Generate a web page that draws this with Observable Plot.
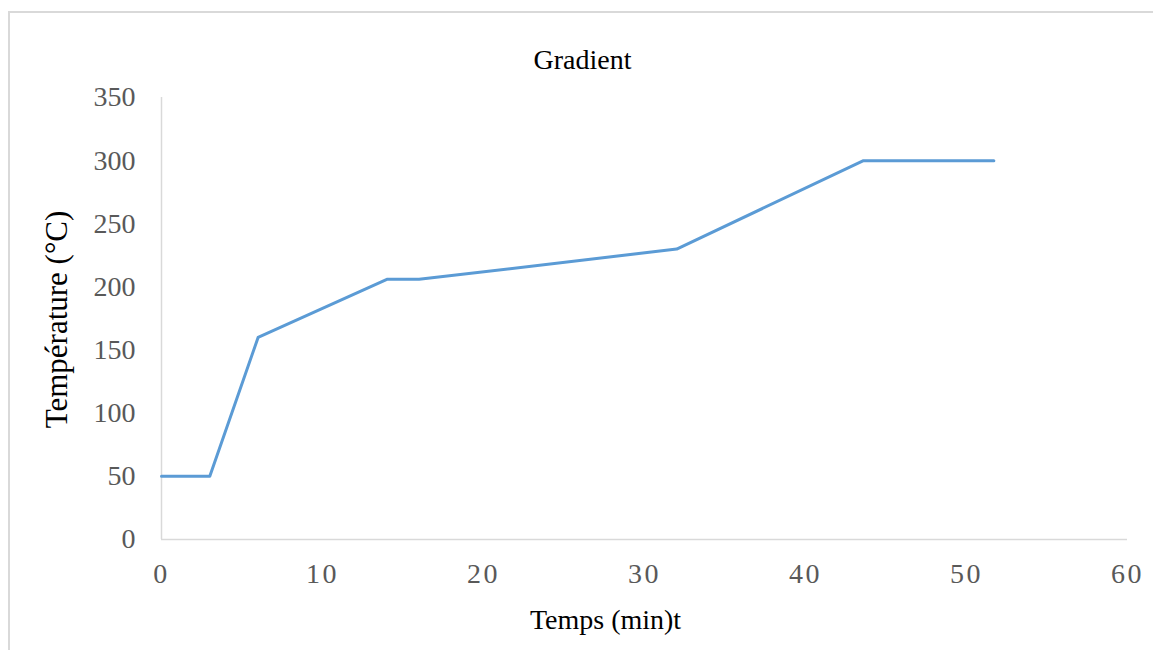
<!DOCTYPE html>
<html>
<head>
<meta charset="utf-8">
<script src="https://cdn.jsdelivr.net/npm/d3@7"></script>
<script src="https://cdn.jsdelivr.net/npm/@observablehq/plot@0.6"></script>
<style>
  html, body { margin: 0; padding: 0; background: #fff; overflow: hidden; width: 1153px; height: 650px; }
  #frame { position: absolute; left: 8px; top: 11px; width: 1200px; height: 700px; border: 2px solid #d9d9d9; box-sizing: border-box; }
  #chart { position: absolute; left: 0; top: 0; }
  #chart g[aria-label="x-axis tick label"] text { letter-spacing: 2.5px; }
</style>
</head>
<body>
<div id="frame"></div>
<div id="chart"></div>
<script>
const title = "Gradient";
const xLabel = "Temps (min)t";
const yLabel = "Température (°C)";
const times = [0, 3, 6, 14, 16, 32, 43.6, 51.7];
const temps = [50, 50, 160, 206, 206, 230, 300, 300];
const xTicks = [0, 10, 20, 30, 40, 50, 60];
const yTicks = [0, 50, 100, 150, 200, 250, 300, 350];

const data = times.map((t, i) => ({t, v: temps[i]}));

const chart = Plot.plot({
  width: 1153,
  height: 650,
  marginLeft: 161,
  marginRight: 26,
  marginTop: 97,
  marginBottom: 111,
  style: {fontFamily: "'Liberation Serif', 'Times New Roman', serif", fontSize: "28px", background: "transparent", overflow: "visible"},
  x: {domain: [0, 60], ticks: xTicks},
  y: {domain: [0, 350], ticks: yTicks},
  marks: [
    Plot.ruleY([0], {stroke: "#d9d9d9", strokeWidth: 1.5}),
    Plot.ruleX([0], {stroke: "#d9d9d9", strokeWidth: 1.5}),
    Plot.axisX({ticks: xTicks, tickSize: 0, tickPadding: 24, label: null, fill: "#595959", fontSize: 28}),
    Plot.axisY({ticks: yTicks, tickSize: 0, tickPadding: 26, label: null, fill: "#595959", fontSize: 28}),
    Plot.line(data, {x: "t", y: "v", stroke: "#5b9bd5", strokeWidth: 3, strokeLinejoin: "round"}),
    Plot.text([title], {frameAnchor: "top", lineAnchor: "bottom", dx: -62, dy: -29, fill: "#000", fontSize: 28}),
    Plot.text([xLabel], {frameAnchor: "bottom", lineAnchor: "bottom", dx: -39, dy: 89, fill: "#000", fontSize: 28}),
    Plot.text([yLabel], {frameAnchor: "left", textAnchor: "middle", lineAnchor: "middle", rotate: -90, dx: -104, dy: 1, fill: "#000", fontSize: 31})
  ]
});
document.getElementById("chart").appendChild(chart);
</script>
</body>
</html>
